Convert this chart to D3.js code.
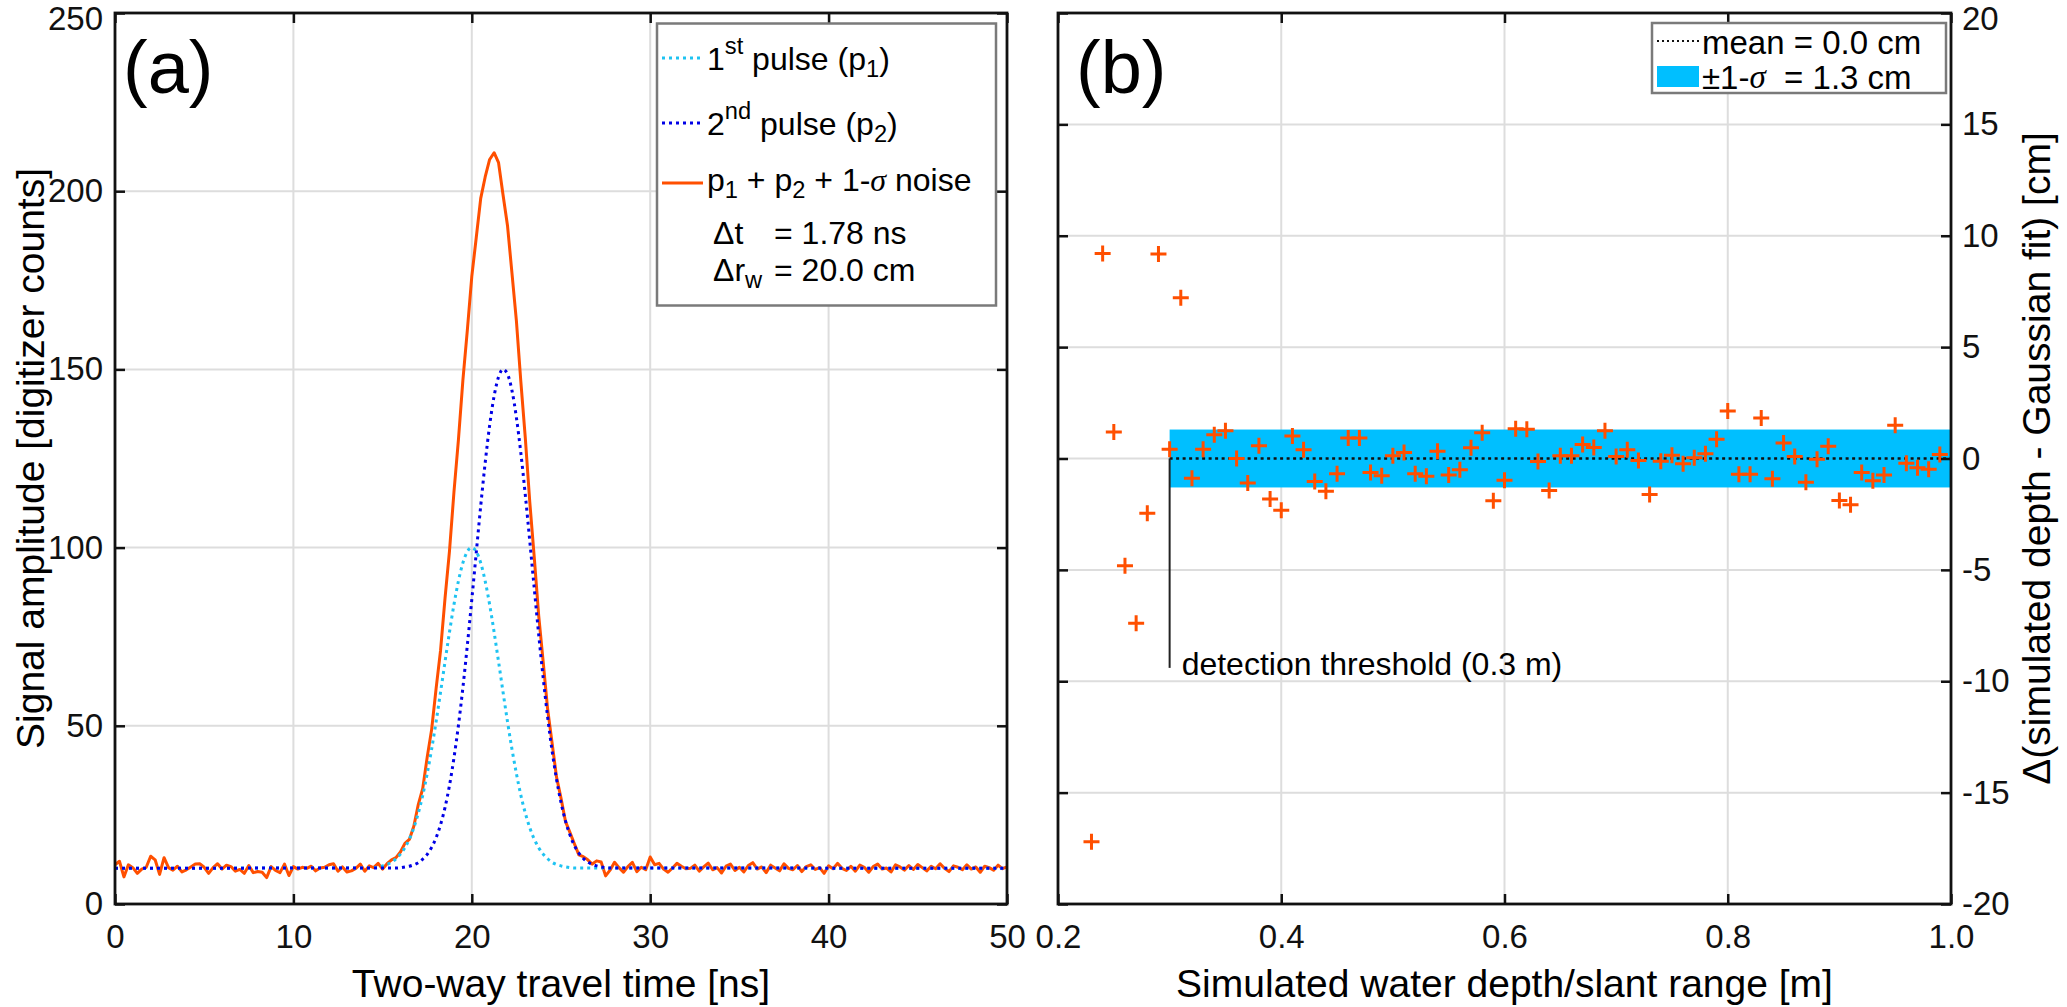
<!DOCTYPE html>
<html>
<head>
<meta charset="utf-8">
<script src="https://cdn.jsdelivr.net/npm/d3@7"></script>
<style>
  html, body { margin: 0; padding: 0; background: #fff; }
  svg { display: block; font-family: "Liberation Sans", Arial, Helvetica, sans-serif; }
  text { white-space: pre; }
</style>
</head>
<body>
<svg id="chart" width="2067" height="1007"></svg>
<script>
// ---------------- DATA ----------------
// Panel (a): sample step 0.25 ns
const sampleStep = 0.25;
const noisyHead = [11.0, 12.0, 7.6, 11.0, 10.2, 8.6, 9.8, 10.3, 13.4, 12.4,
  8.3, 13.0, 10.2, 9.5, 10.6, 9.0, 9.6, 10.4, 11.2, 11.3,
  10.3, 8.6, 10.2, 11.3, 9.8, 10.9, 10.5, 9.2, 9.7, 8.6,
  10.8, 8.8, 9.1, 8.9, 7.4, 10.5, 9.4, 8.8, 11.2, 8.0,
  10.5, 9.8, 10.3, 10.0, 10.6, 9.3, 10.1, 10.3, 11.0, 11.3,
  9.2, 10.4, 9.0, 9.3, 10.0, 11.2, 9.2, 10.7, 10.2, 11.4,
  9.8];
const noisyPulse = [11.3, 12.4, 13.0, 14.6, 17.0, 18.1, 21.8, 27.9, 32.4, 41.2,
  49.0, 60.5, 71.2, 85.8, 99.1, 115.6, 130.2, 146.9, 161.0, 176.1,
  187.0, 198.0, 204.0, 208.9, 210.8, 208.0, 199.0, 190.4, 177.1, 163.6,
  146.5, 130.7, 112.8, 97.3, 80.9, 68.0, 54.7, 45.2, 35.6, 29.7,
  23.2, 20.1, 16.9, 13.8, 13.3, 12.4, 11.2, 12.1];
const noisyTail = [11.8, 7.9, 9.5, 11.7, 10.2, 8.9, 10.5, 11.7, 9.1, 10.3,
  9.6, 13.2, 11.0, 11.4, 9.8, 8.9, 10.1, 11.4, 10.6, 9.9,
  10.0, 10.9, 9.2, 10.4, 11.5, 9.6, 10.2, 8.7, 10.6, 11.2,
  9.4, 10.3, 9.0, 10.8, 11.6, 9.8, 10.4, 8.8, 10.9, 10.1,
  9.3, 11.3, 10.0, 9.6, 10.8, 9.1, 10.5, 11.0, 9.7, 10.2,
  8.6, 10.7, 9.9, 11.4, 10.0, 9.4, 10.6, 9.2, 10.9, 10.3,
  8.9, 10.5, 11.2, 9.8, 10.1, 9.0, 11.0, 10.4, 9.5, 10.8,
  9.7, 11.1, 10.2, 9.3, 10.6, 9.9, 11.3, 10.0, 9.1, 10.7,
  10.3, 9.6, 11.0, 9.8, 10.4, 8.9, 10.6, 10.2, 9.5, 10.9,
  9.9, 10.4];

const baseline = 10;
const timeRange = [0, 50];
const pulse1Start = 14.0;
const pulse1Values = [10.1, 10.1, 10.2, 10.4, 10.7, 11.1, 11.7, 12.7, 14.0, 15.8,
  18.2, 21.4, 25.5, 30.5, 36.6, 43.5, 51.2, 59.5, 68.0, 76.3,
  84.0, 90.6, 95.7, 98.9, 100.0, 98.9, 95.7, 90.6, 84.0, 76.3,
  68.0, 59.5, 51.2, 43.5, 36.6, 30.5, 25.5, 21.4, 18.2, 15.8,
  14.0, 12.7, 11.7, 11.1, 10.7, 10.4, 10.2, 10.1, 10.1];
const pulse2Start = 15.5;
const pulse2Values = [10.1, 10.1, 10.2, 10.4, 10.6, 11.0, 11.6, 12.6, 13.9, 15.9,
  18.6, 22.3, 27.1, 33.3, 41.0, 50.1, 60.7, 72.6, 85.4, 98.6,
  111.7, 123.8, 134.3, 142.5, 147.9, 150.0, 148.7, 144.1, 136.5, 126.5,
  114.7, 101.8, 88.6, 75.6, 63.5, 52.5, 43.0, 35.0, 28.5, 23.3,
  19.4, 16.4, 14.3, 12.8, 11.8, 11.1, 10.7, 10.4, 10.2, 10.1,
  10.1];

const xTicksA = [0, 10, 20, 30, 40, 50];
const yTicksA = [0, 50, 100, 150, 200, 250];

// Panel (b)
const depth = [0.23, 0.24, 0.25, 0.26, 0.27, 0.28, 0.29, 0.30, 0.31, 0.32,
  0.33, 0.34, 0.35, 0.36, 0.37, 0.38, 0.39, 0.40, 0.41, 0.42,
  0.43, 0.44, 0.45, 0.46, 0.47, 0.48, 0.49, 0.50, 0.51, 0.52,
  0.53, 0.54, 0.55, 0.56, 0.57, 0.58, 0.59, 0.60, 0.61, 0.62,
  0.63, 0.64, 0.65, 0.66, 0.67, 0.68, 0.69, 0.70, 0.71, 0.72,
  0.73, 0.74, 0.75, 0.76, 0.77, 0.78, 0.79, 0.80, 0.81, 0.82,
  0.83, 0.84, 0.85, 0.86, 0.87, 0.88, 0.89, 0.90, 0.91, 0.92,
  0.93, 0.94, 0.95, 0.96, 0.97, 0.98, 0.99];
const depthError = [-17.2, 9.2, 1.19, -4.82, -7.4, -2.46, 9.18, 0.42, 7.22, -0.89,
  0.42, 1.07, 1.25, 0.0, -1.10, 0.57, -1.82, -2.32, 1.01, 0.39,
  -1.03, -1.47, -0.68, 0.92, 0.92, -0.63, -0.77, 0.12, 0.27, -0.68,
  -0.80, 0.33, -0.74, -0.51, 0.48, 1.16, -1.90, -0.98, 1.34, 1.31,
  -0.13, -1.44, 0.12, 0.12, 0.63, 0.49, 1.25, 0.09, 0.39, -0.09,
  -1.62, -0.12, 0.15, -0.24, 0.03, 0.21, 0.86, 2.13, -0.71, -0.71,
  1.82, -0.91, 0.70, 0.09, -1.07, -0.03, 0.55, -1.88, -2.08, -0.63,
  -1.00, -0.74, 1.49, -0.21, -0.42, -0.48, 0.18];
const meanError = 0.0;
const sigmaError = 1.3;
const thresholdDepth = 0.3;
const thresholdLineEnd = -9.4;
const bandEnd = 1.0;
const xTicksB = [0.2, 0.4, 0.6, 0.8, 1.0];
const yTicksB = [-20, -15, -10, -5, 0, 5, 10, 15, 20];

// ---------------- STYLE ----------------
const C_CYAN = "#1ec3f2";
const C_BLUE = "#0000e6";
const C_ORANGE = "#ff4f00";
const C_BAND = "#00bfff";
const C_GRID = "#dddddd";
const TICK_FS = 33, LABEL_FS = 39, LEG_FS = 32, LEGB_FS = 33;

const svg = d3.select("#chart");

function panel(x, y, xTicks, yTicks) {
  const [x0, x1] = x.range();
  const [y0, y1] = y.range();
  const g = svg.append("g");
  g.append("g").selectAll("line").data(xTicks.filter(t => x(t) > x0 + 1 && x(t) < x1 - 1)).join("line")
    .attr("x1", d => x(d)).attr("x2", d => x(d)).attr("y1", y1).attr("y2", y0)
    .attr("stroke", C_GRID).attr("stroke-width", 2);
  g.append("g").selectAll("line").data(yTicks.filter(t => y(t) < y0 - 1 && y(t) > y1 + 1)).join("line")
    .attr("y1", d => y(d)).attr("y2", d => y(d)).attr("x1", x0).attr("x2", x1)
    .attr("stroke", C_GRID).attr("stroke-width", 2);
  return g;
}

function frame(x, y, xTicks, yTicks, fmtX, fmtY, yOnRight) {
  const [x0, x1] = x.range();
  const [y0, y1] = y.range();
  const g = svg.append("g");
  const style = sel => {
    sel.selectAll("path.domain").remove();
    sel.selectAll(".tick line").attr("stroke", "#111").attr("stroke-width", 2.5);
    sel.selectAll(".tick text").attr("fill", "#111").style("font-size", TICK_FS + "px")
      .style("font-family", '"Liberation Sans", Arial, sans-serif');
  };
  const nudgeTop = sel => {
    // keep the topmost y label inside the picture, as in the reference
    sel.selectAll(".tick text").filter(d => d === y.domain()[1]).attr("dy", "0.5em");
  };
  g.append("g").attr("transform", `translate(0,${y0})`)
    .call(d3.axisBottom(x).tickValues(xTicks).tickFormat(fmtX).tickSize(-10).tickPadding(21))
    .call(style);
  g.append("g").attr("transform", `translate(0,${y1})`)
    .call(d3.axisTop(x).tickValues(xTicks).tickFormat("").tickSize(-10))
    .call(style);
  g.append("g").attr("transform", `translate(${x0},0)`)
    .call(d3.axisLeft(y).tickValues(yTicks).tickFormat(yOnRight ? "" : fmtY).tickSize(-10).tickPadding(12))
    .call(style).call(nudgeTop);
  g.append("g").attr("transform", `translate(${x1},0)`)
    .call(d3.axisRight(y).tickValues(yTicks).tickFormat(yOnRight ? fmtY : "").tickSize(-10).tickPadding(11))
    .call(style).call(nudgeTop);
  g.append("rect").attr("x", x0).attr("y", y1).attr("width", x1 - x0).attr("height", y0 - y1)
    .attr("fill", "none").attr("stroke", "#111").attr("stroke-width", 2.8);
  return g;
}

function legText(g, x, y, parts, fs) {
  const t = g.append("text").attr("x", x).attr("y", y).style("font-size", fs + "px")
    .attr("dominant-baseline", "central");
  let shift = 0;
  parts.forEach(p => {
    const ts = t.append("tspan");
    let target = 0, size = fs;
    if (p.sup) { target = -0.42 * fs; size = 0.74 * fs; }
    if (p.sub) { target = 0.3 * fs; size = 0.74 * fs; }
    ts.attr("dy", target - shift).style("font-size", size + "px").text(p.t);
    if (p.it) ts.style("font-style", "italic").style("font-family", '"Liberation Serif", "Times New Roman", serif');
    shift = target;
  });
  return t;
}

// ================= PANEL (a) =================
const xA = d3.scaleLinear().domain(timeRange).range([115, 1007]);
const yA = d3.scaleLinear().domain([0, 250]).range([904, 13]);
panel(xA, yA, xTicksA, yTicksA);

const noisy = noisyHead.concat(noisyPulse, noisyTail).map((v, i) => [i * sampleStep, v]);
const p1 = [[timeRange[0], baseline]].concat(pulse1Values.map((v, i) => [pulse1Start + i * sampleStep, v]), [[timeRange[1], baseline]]);
const p2 = [[timeRange[0], baseline]].concat(pulse2Values.map((v, i) => [pulse2Start + i * sampleStep, v]), [[timeRange[1], baseline]]);

const lineA = d3.line().x(d => xA(d[0])).y(d => yA(d[1]));
const smoothA = d3.line().x(d => xA(d[0])).y(d => yA(d[1])).curve(d3.curveMonotoneX);

svg.append("path").datum(noisy).attr("d", lineA).attr("fill", "none")
  .attr("stroke", C_ORANGE).attr("stroke-width", 3).attr("stroke-linejoin", "round");
svg.append("path").datum(p1).attr("d", smoothA).attr("fill", "none")
  .attr("stroke", C_CYAN).attr("stroke-width", 3).attr("stroke-dasharray", "3,4");
svg.append("path").datum(p2).attr("d", smoothA).attr("fill", "none")
  .attr("stroke", C_BLUE).attr("stroke-width", 3).attr("stroke-dasharray", "3,4");

frame(xA, yA, xTicksA, yTicksA, d => String(d), d => String(d), false);

svg.append("text").attr("x", 123).attr("y", 93).text("(a)")
  .style("font-size", "74px").attr("fill", "#000");

svg.append("text").attr("x", d3.mean(xA.range())).attr("y", 997).attr("text-anchor", "middle")
  .style("font-size", LABEL_FS + "px").text("Two-way travel time [ns]");
svg.append("text").attr("transform", `translate(30,${d3.mean(yA.range())}) rotate(-90)`)
  .attr("text-anchor", "middle").attr("dominant-baseline", "central")
  .style("font-size", LABEL_FS + "px").text("Signal amplitude [digitizer counts]");

// legend (a)
const legA = svg.append("g");
legA.append("rect").attr("x", 657).attr("y", 23.5).attr("width", 339).attr("height", 282)
  .attr("fill", "#fff").attr("stroke", "#7a7a7a").attr("stroke-width", 2.5);
const legRows = [
  { y: 58, color: C_CYAN, dash: "3,4" },
  { y: 123, color: C_BLUE, dash: "3,4" },
  { y: 183, color: C_ORANGE, dash: null }
];
legRows.forEach(r => {
  legA.append("line").attr("x1", 662).attr("x2", 703).attr("y1", r.y).attr("y2", r.y)
    .attr("stroke", r.color).attr("stroke-width", 3).attr("stroke-dasharray", r.dash);
});
legText(legA, 707, 59, [{ t: "1" }, { t: "st", sup: 1 }, { t: " pulse (p" }, { t: "1", sub: 1 }, { t: ")" }], LEG_FS);
legText(legA, 707, 124, [{ t: "2" }, { t: "nd", sup: 1 }, { t: " pulse (p" }, { t: "2", sub: 1 }, { t: ")" }], LEG_FS);
legText(legA, 707, 180, [{ t: "p" }, { t: "1", sub: 1 }, { t: " + p" }, { t: "2", sub: 1 }, { t: " + 1-" }, { t: "σ", it: 1 }, { t: " noise" }], LEG_FS);
legText(legA, 713, 233, [{ t: "Δt" }], LEG_FS);
legText(legA, 774, 233, [{ t: "= 1.78 ns" }], LEG_FS);
legText(legA, 713, 270, [{ t: "Δr" }, { t: "w", sub: 1 }], LEG_FS);
legText(legA, 774, 270, [{ t: "= 20.0 cm" }], LEG_FS);

// ================= PANEL (b) =================
const xB = d3.scaleLinear().domain([0.2, 1.0]).range([1058, 1951]);
const yB = d3.scaleLinear().domain([-20, 20]).range([904, 13]);
panel(xB, yB, xTicksB, yTicksB);

svg.append("rect").attr("x", xB(thresholdDepth)).attr("width", xB(bandEnd) - xB(thresholdDepth))
  .attr("y", yB(meanError + sigmaError)).attr("height", yB(meanError - sigmaError) - yB(meanError + sigmaError))
  .attr("fill", C_BAND);
svg.append("line").attr("x1", xB(thresholdDepth)).attr("x2", xB(bandEnd))
  .attr("y1", yB(meanError)).attr("y2", yB(meanError))
  .attr("stroke", "#111").attr("stroke-width", 2.5).attr("stroke-dasharray", "3,3.5");
svg.append("line").attr("x1", xB(thresholdDepth)).attr("x2", xB(thresholdDepth))
  .attr("y1", yB(meanError)).attr("y2", yB(thresholdLineEnd))
  .attr("stroke", "#222").attr("stroke-width", 2);
svg.append("text").attr("x", xB(thresholdDepth) + 12).attr("y", yB(thresholdLineEnd) - 4)
  .attr("dominant-baseline", "central").style("font-size", LEG_FS + "px")
  .text("detection threshold (0.3 m)");

svg.append("g").selectAll("path").data(depth.map((d, i) => [d, depthError[i]])).join("path")
  .attr("transform", d => `translate(${xB(d[0])},${yB(d[1])})`)
  .attr("d", "M-8,0H8M0,-8V8").attr("stroke", C_ORANGE).attr("stroke-width", 3).attr("fill", "none");

frame(xB, yB, xTicksB, yTicksB, d3.format(".1f"), d => String(d), true);

svg.append("text").attr("x", 1076).attr("y", 93).text("(b)")
  .style("font-size", "74px").attr("fill", "#000");

svg.append("text").attr("x", d3.mean(xB.range())).attr("y", 997).attr("text-anchor", "middle")
  .style("font-size", LABEL_FS + "px").text("Simulated water depth/slant range [m]");
svg.append("text").attr("transform", `translate(2036,${d3.mean(yB.range())}) rotate(-90)`)
  .attr("text-anchor", "middle").attr("dominant-baseline", "central")
  .style("font-size", LABEL_FS + "px").text("Δ(simulated depth - Gaussian fit) [cm]");

// legend (b)
const legB = svg.append("g");
legB.append("rect").attr("x", 1652).attr("y", 23).attr("width", 294).attr("height", 70)
  .attr("fill", "#fff").attr("stroke", "#7a7a7a").attr("stroke-width", 2.5);
legB.append("line").attr("x1", 1657).attr("x2", 1699).attr("y1", 41).attr("y2", 41)
  .attr("stroke", "#111").attr("stroke-width", 2).attr("stroke-dasharray", "2,3");
legB.append("rect").attr("x", 1657).attr("y", 66).attr("width", 42).attr("height", 21).attr("fill", C_BAND);
legText(legB, 1702, 42, [{ t: "mean = 0.0 cm" }], LEGB_FS);
legText(legB, 1702, 77, [{ t: "±1-" }, { t: "σ", it: 1 }, { t: "  = 1.3 cm" }], LEGB_FS);
</script>
</body>
</html>
